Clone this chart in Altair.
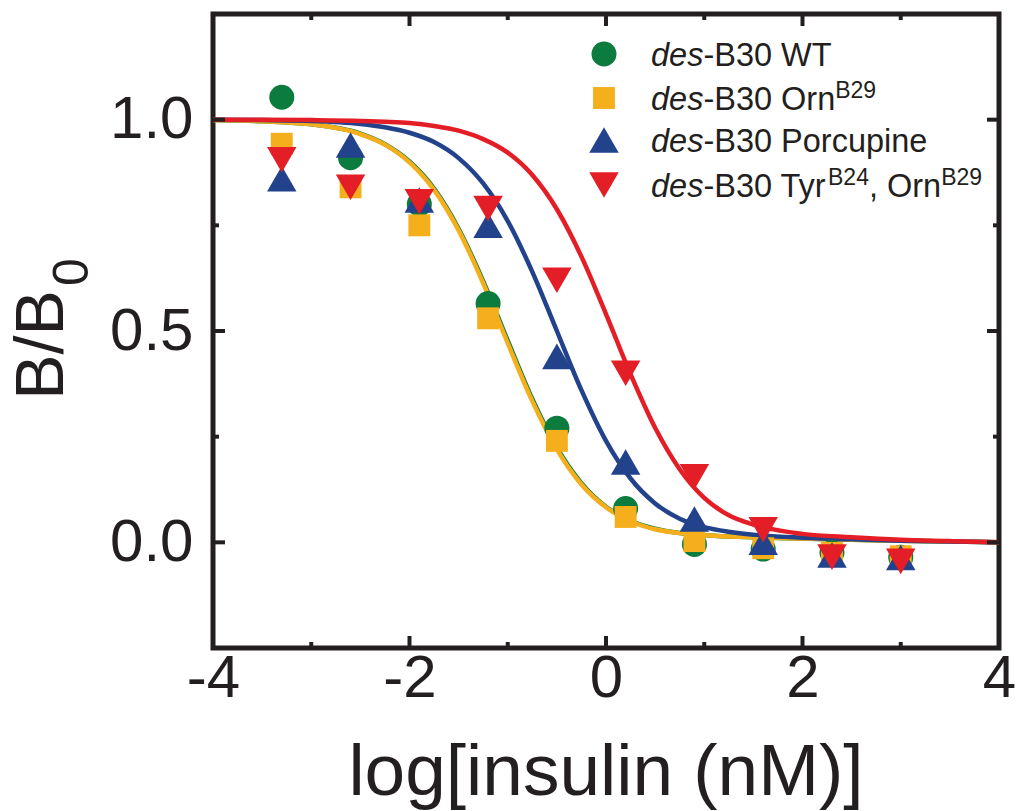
import altair as alt
import pandas as pd

# ---------------- data ----------------
series = ["WT", "OrnB29", "Porcupine", "TyrB24,OrnB29"]
colors = ["#0b7b3e", "#f6af1c", "#22428c", "#e41e26"]
shapes = ["circle", "square", "triangle-up", "triangle-down"]
sizes = [625, 480, 870, 870]

log_conc = [-3.3, -2.6, -1.9, -1.2, -0.5, 0.2, 0.9, 1.6, 2.3, 3.0]
bb_wt = [1.053, 0.91, 0.80, 0.565, 0.27, 0.08, -0.005, -0.016, -0.024, -0.035]
bb_orn = [0.943, 0.84, 0.75, 0.53, 0.24, 0.06, 0.003, -0.014, -0.025, -0.033]
bb_porc = [0.86, 0.94, 0.81, 0.75, 0.44, 0.19, 0.055, 0.0, -0.03, -0.036]
bb_tyr = [0.905, 0.84, 0.806, 0.79, 0.62, 0.40, 0.155, 0.03, -0.035, -0.045]

curve_x = [-4, -3.5, -3, -2.5, -2.25, -2, -1.75, -1.5, -1.25, -1, -0.75, -0.5,
           -0.25, 0, 0.25, 0.5, 0.75, 1, 1.25, 1.5, 2, 2.5, 3, 3.5, 4]
fit_wt = [0.999, 0.996, 0.989, 0.967, 0.942, 0.901, 0.837, 0.742, 0.618, 0.477,
          0.339, 0.224, 0.140, 0.084, 0.051, 0.032, 0.022, 0.017, 0.014, 0.012,
          0.009, 0.006, 0.004, 0.002, 0.0]
fit_orn = [0.999, 0.996, 0.989, 0.966, 0.941, 0.899, 0.834, 0.738, 0.613, 0.471,
           0.334, 0.220, 0.137, 0.083, 0.050, 0.031, 0.022, 0.017, 0.014, 0.012,
           0.009, 0.006, 0.004, 0.002, 0.0]
fit_porc = [1.0, 0.999, 0.997, 0.990, 0.982, 0.969, 0.947, 0.909, 0.849, 0.760,
            0.640, 0.500, 0.360, 0.240, 0.151, 0.092, 0.056, 0.036, 0.025, 0.018,
            0.011, 0.007, 0.004, 0.002, 0.0]
fit_tyr = [1.0, 1.0, 0.999, 0.997, 0.995, 0.992, 0.985, 0.974, 0.954, 0.922,
           0.869, 0.788, 0.676, 0.540, 0.398, 0.271, 0.173, 0.105, 0.064, 0.042,
           0.020, 0.012, 0.006, 0.003, 0.0]

x_major = [-4, -2, 0, 2, 4]
x_minor = [-3, -1, 1, 3]
y_major = [0, 0.5, 1.0]
y_minor = [0.25, 0.75]

points = [bb_wt, bb_orn, bb_porc, bb_tyr]
fits = [fit_wt, fit_orn, fit_porc, fit_tyr]

# ---------------- layout / style ----------------
W, H = 786, 634
ink = "#231f20"
FONT = "Liberation Sans"

xscale = alt.Scale(domain=[-4, 4], nice=False, zero=False)
yscale = alt.Scale(domain=[-0.25, 1.25], nice=False, zero=False)
xaxis = alt.Axis(values=x_major, labelExpr="'' + datum.value", title=None,
                 ticks=False, domain=False, grid=False, labelFontSize=60,
                 labelPadding=1, labelFont=FONT, labelColor=ink,
                 labelFlush=False, labelOverlap=False)
yaxis = alt.Axis(values=y_major, format=".1f", title=None, ticks=False,
                 domain=False, grid=False, labelFontSize=60, labelPadding=20,
                 labelFont=FONT, labelColor=ink, labelFlush=False,
                 labelOverlap=False)


def X(f):
    return alt.X(f, type="quantitative", scale=xscale, axis=xaxis)


def Y(f):
    return alt.Y(f, type="quantitative", scale=yscale, axis=yaxis)


layers = []

# fitted curves
for i in range(4):
    df = pd.DataFrame({"x": curve_x, "y": fits[i]})
    layers.append(
        alt.Chart(df).mark_line(color=colors[i], strokeWidth=4.5,
                                interpolate="monotone").encode(x=X("x"), y=Y("y"))
    )

# data points
for i in range(4):
    df = pd.DataFrame({"x": log_conc, "y": points[i]})
    layers.append(
        alt.Chart(df).mark_point(shape=shapes[i], size=sizes[i], filled=True,
                                 color=colors[i], opacity=1, strokeWidth=0)
        .encode(x=X("x"), y=Y("y"))
    )

# inward ticks on all four sides
def yticks(vals, length):
    df = pd.DataFrame({"v": vals})
    base = alt.Chart(df).mark_rule(color=ink, strokeWidth=4, strokeCap="butt")
    return [
        base.encode(y=Y("v"), x=alt.value(0), x2=alt.value(length)),
        base.encode(y=Y("v"), x=alt.value(W - length), x2=alt.value(W)),
    ]


def xticks(vals, length):
    df = pd.DataFrame({"v": vals})
    base = alt.Chart(df).mark_rule(color=ink, strokeWidth=4, strokeCap="butt")
    return [
        base.encode(x=X("v"), y=alt.value(H - length), y2=alt.value(H)),
        base.encode(x=X("v"), y=alt.value(0), y2=alt.value(length)),
    ]


layers += yticks(y_major, 12) + yticks(y_minor, 6)
layers += xticks(x_major, 12) + xticks(x_minor, 6)

one = pd.DataFrame({"a": [0]})

# legend
sym_x = 391
sym_y = [40, 84, 126, 171]
base_y = [52, 96, 138, 183]
tx = 438
FS, SS = 32.5, 23
for i in range(4):
    layers.append(
        alt.Chart(one).mark_point(shape=shapes[i], size=sizes[i], filled=True,
                                  color=colors[i], opacity=1, strokeWidth=0)
        .encode(x=alt.value(sym_x), y=alt.value(sym_y[i]))
    )


def txt(s, x, y, size, style="normal", align="left", angle=0):
    kw = dict(text=s, font=FONT, fontSize=size, fontStyle=style, align=align,
              baseline="alphabetic", color=ink)
    if angle:
        kw["angle"] = angle
    return alt.Chart(one).mark_text(**kw).encode(x=alt.value(x), y=alt.value(y))


def w(s, size):
    m = {"d": 556, "e": 556, "s": 500, "-": 333, "B": 667, "3": 556, "0": 556,
         " ": 278, "W": 944, "T": 611, "O": 778, "r": 333, "n": 556, "P": 667,
         "o": 556, "c": 500, "u": 556, "p": 556, "i": 222, "y": 500, ",": 278,
         "2": 556, "9": 556, "4": 556}
    return sum(m[c] for c in s) * size / 1000.0


rest = ["-B30 WT", "-B30 Orn", "-B30 Porcupine", "-B30 Tyr"]
for i in range(4):
    layers.append(txt("des", tx, base_y[i], FS, "italic"))
    x1 = tx + w("des", FS)
    layers.append(txt(rest[i], x1, base_y[i], FS))
    x2 = x1 + w(rest[i], FS)
    if i == 1:
        layers.append(txt("B29", x2, base_y[i] - 12, SS))
    if i == 3:
        layers.append(txt("B24", x2, base_y[i] - 12, SS))
        x3 = x2 + w("B24", SS)
        layers.append(txt(", Orn", x3, base_y[i], FS))
        x4 = x3 + w(", Orn", FS)
        layers.append(txt("B29", x4, base_y[i] - 12, SS))

# axis titles
layers.append(txt("log[insulin (nM)]", 393, 781, 73, align="center"))
layers.append(txt("B/B", -150, 331, 68, align="center", angle=270))
layers.append(txt("0", -125, 258, 50, align="center", angle=270))

chart = alt.layer(*layers).properties(
    width=W, height=H,
    padding={"left": 213, "top": 14, "right": 20, "bottom": 163},
    autosize=alt.AutoSizeParams(type="none"),
    background="white",
).configure_view(stroke=ink, strokeWidth=5)

chart.save("out.html", embed_options={"renderer": "svg", "actions": False})
